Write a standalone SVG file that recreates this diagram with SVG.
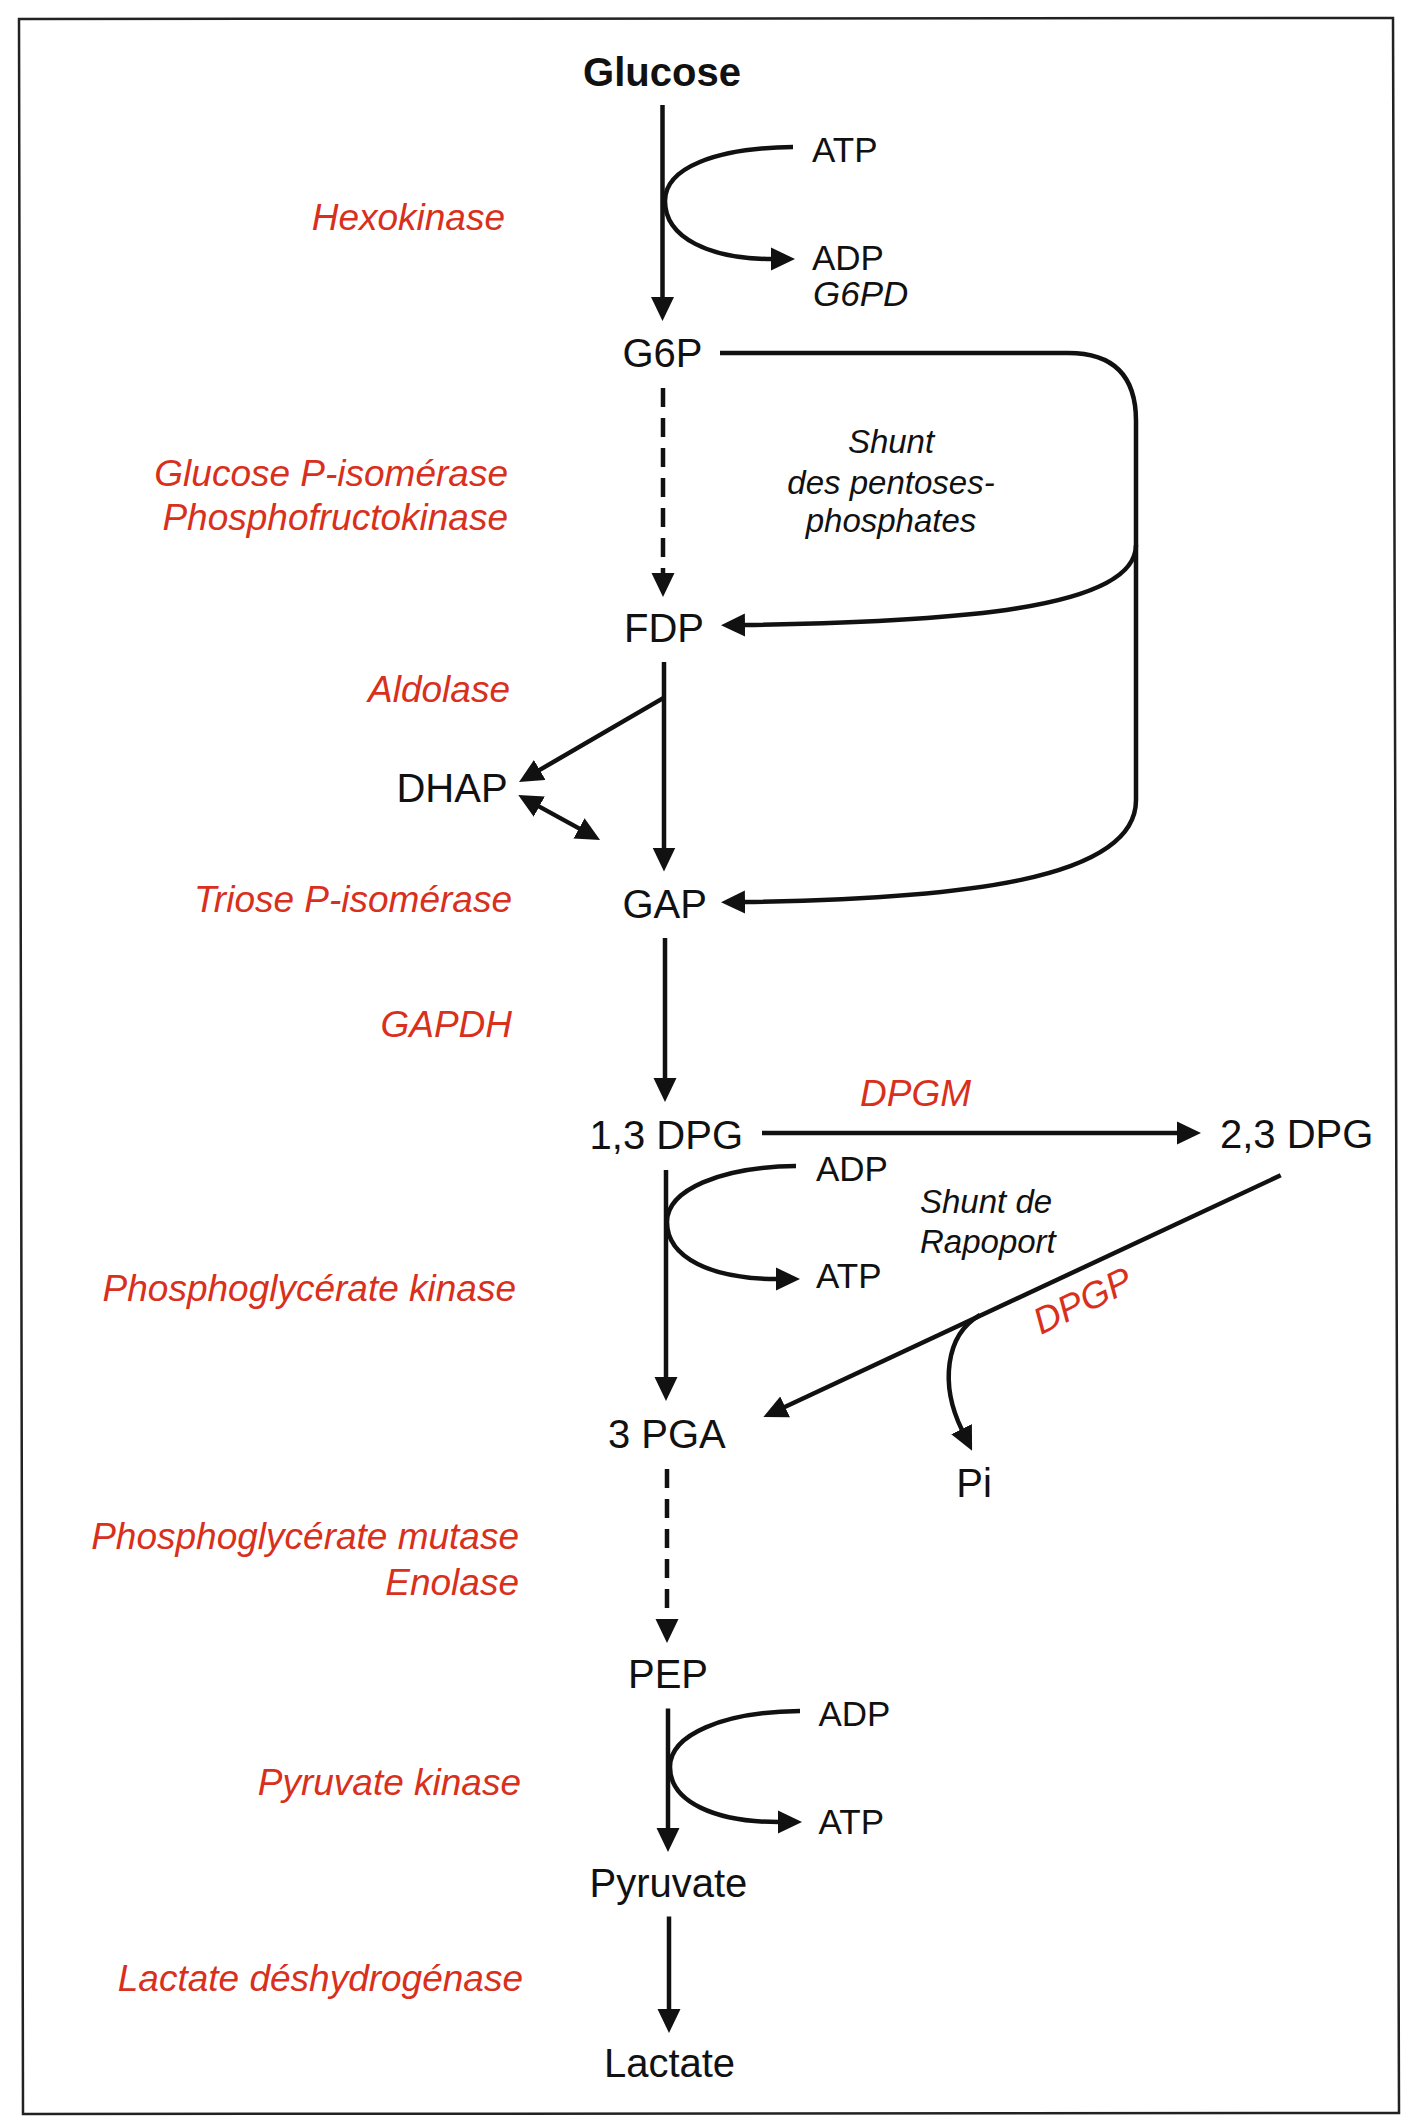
<svg xmlns="http://www.w3.org/2000/svg" width="1420" height="2128" viewBox="0 0 1420 2128">
<style>
.n{font-family:"Liberation Sans",Arial,sans-serif;font-size:40px;fill:#111;text-anchor:middle}
.b{font-weight:bold}
.s{font-family:"Liberation Sans",Arial,sans-serif;font-size:35px;fill:#111}
.i{font-family:"Liberation Sans",Arial,sans-serif;font-style:italic;font-size:33px;fill:#111}
.e{font-family:"Liberation Sans",Arial,sans-serif;font-style:italic;font-size:37px;fill:#d8301c;text-anchor:end}
.e.st{text-anchor:start}
.c{fill:none;stroke:#111;stroke-width:4.5}
.d{stroke-dasharray:19 11}
</style>
<defs>
<marker id="ah" viewBox="0 0 24 24" refX="1" refY="12" markerWidth="24" markerHeight="24" markerUnits="userSpaceOnUse" orient="auto-start-reverse">
<path d="M0,0.5 L24,12 L0,23.5 Z" fill="#111"/>
</marker>
</defs>
<rect x="0" y="0" width="1420" height="2128" fill="#fff"/>
<path d="M19,19 L1393,18 L1399,2113 L23,2114 Z" fill="none" stroke="#222" stroke-width="2.5"/>

<g id="connectors">
<path class="c" d="M662.5,105 V298" marker-end="url(#ah)"/>
<path class="c" d="M793,147 C715,148 665,168 665,201 C665,238 710,259 772,259" marker-end="url(#ah)"/>
<path class="c d" d="M663,388 V574" marker-end="url(#ah)"/>
<path class="c" d="M720,353 H1068 Q1136,353 1136,421 V800 C1136,880 960,899 744,902" marker-end="url(#ah)"/>
<path class="c" d="M1136,545 C1136,610 950,622 744,625" marker-end="url(#ah)"/>
<path class="c" d="M664,662 V848.5" marker-end="url(#ah)"/>
<path class="c" d="M664,697.6 L538.9,770.4" marker-end="url(#ah)"/>
<path class="c" d="M538.4,806.1 L579.9,828.9" marker-start="url(#ah)" marker-end="url(#ah)"/>
<path class="c" d="M665,938 V1079" marker-end="url(#ah)"/>
<path class="c" d="M762,1133 H1178" marker-end="url(#ah)"/>
<path class="c" d="M666,1170 V1378" marker-end="url(#ah)"/>
<path class="c" d="M796,1166 C720,1167 667,1190 667,1222 C667,1258 712,1279 777,1279" marker-end="url(#ah)"/>
<path class="c" d="M1280.7,1175.3 L784.2,1407.3" marker-end="url(#ah)"/>
<path class="c" d="M980,1315 C945,1335 940,1385 962,1430" marker-end="url(#ah)"/>
<path class="c d" d="M667,1469 V1620" marker-end="url(#ah)"/>
<path class="c" d="M668,1708.5 V1829" marker-end="url(#ah)"/>
<path class="c" d="M800,1711 C722,1712 670,1735 670,1767 C670,1802 715,1822 779,1822" marker-end="url(#ah)"/>
<path class="c" d="M669,1916.5 V2010" marker-end="url(#ah)"/>
</g>

<g id="glucose"><text class="n b" x="662" y="86">Glucose</text></g>
<g id="atp1"><text class="s" x="812" y="161.5">ATP</text></g>
<g id="adp1"><text class="s" x="812" y="269.5">ADP</text></g>
<g id="g6pd"><text class="s" x="813" y="306" font-style="italic">G6PD</text></g>
<g id="g6p"><text class="n" x="662.5" y="367">G6P</text></g>
<g id="shunt-pp"><text class="i" text-anchor="middle"><tspan x="891" y="453">Shunt</tspan><tspan x="891" y="494">des pentoses-</tspan><tspan x="891" y="532">phosphates</tspan></text></g>
<g id="fdp"><text class="n" x="664" y="642">FDP</text></g>
<g id="dhap"><text class="n" x="452" y="801.5" font-size="35">DHAP</text></g>
<g id="gap"><text class="n" x="664.7" y="918">GAP</text></g>
<g id="dpg13"><text class="n" x="666.3" y="1148.5">1,3 DPG</text></g>
<g id="dpg23"><text class="n" x="1296.7" y="1148.3" font-size="41">2,3 DPG</text></g>
<g id="dpgm"><text class="e st" x="860" y="1105.7">DPGM</text></g>
<g id="adp2"><text class="s" x="816" y="1181">ADP</text></g>
<g id="atp2"><text class="s" x="816" y="1288">ATP</text></g>
<g id="shunt-rap"><text class="i"><tspan x="920" y="1213">Shunt de</tspan><tspan x="920" y="1253">Rapoport</tspan></text></g>
<g id="dpgp"><text class="e st" transform="translate(1041,1335) rotate(-26)">DPGP</text></g>
<g id="pga3"><text class="n" x="666.8" y="1448">3 PGA</text></g>
<g id="pi"><text class="n" x="974" y="1496.5" font-size="38">Pi</text></g>
<g id="pep"><text class="n" x="668" y="1688">PEP</text></g>
<g id="adp3"><text class="s" x="818.5" y="1726">ADP</text></g>
<g id="atp3"><text class="s" x="818.5" y="1834">ATP</text></g>
<g id="pyruvate"><text class="n" x="668.4" y="1897">Pyruvate</text></g>
<g id="lactate"><text class="n" x="669.5" y="2077">Lactate</text></g>

<g id="enzymes">
<text class="e" x="505" y="230">Hexokinase</text>
<text class="e" x="508" y="486">Glucose P-isomérase</text>
<text class="e" x="508" y="530">Phosphofructokinase</text>
<text class="e" x="510" y="701.5">Aldolase</text>
<text class="e" x="512" y="911.5">Triose P-isomérase</text>
<text class="e" x="512" y="1037">GAPDH</text>
<text class="e" x="516" y="1301">Phosphoglycérate kinase</text>
<text class="e" x="519" y="1549">Phosphoglycérate mutase</text>
<text class="e" x="519" y="1595">Enolase</text>
<text class="e" x="521" y="1795">Pyruvate kinase</text>
<text class="e" x="523" y="1991">Lactate déshydrogénase</text>
</g>
</svg>
